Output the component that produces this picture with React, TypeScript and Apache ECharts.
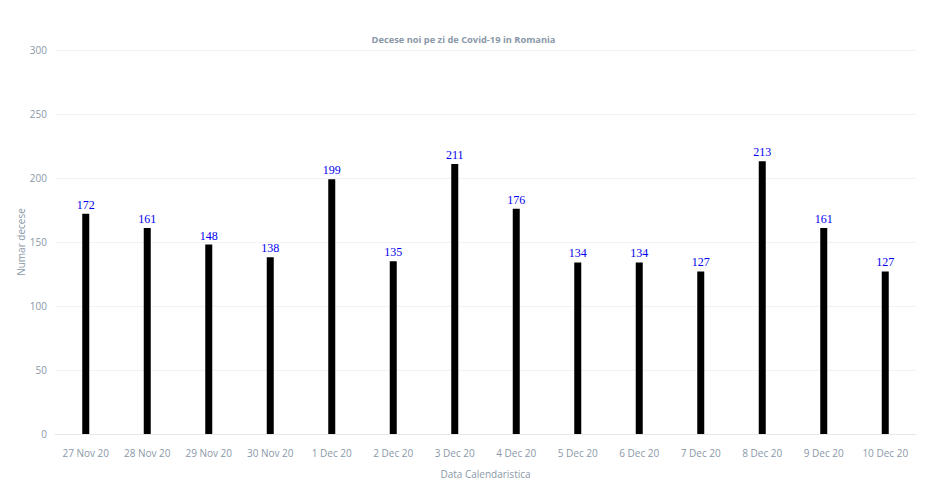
import React, { useEffect, useRef } from "react";
import * as echarts from "echarts";

const categories = ["27 Nov 20","28 Nov 20","29 Nov 20","30 Nov 20","1 Dec 20","2 Dec 20","3 Dec 20","4 Dec 20","5 Dec 20","6 Dec 20","7 Dec 20","8 Dec 20","9 Dec 20","10 Dec 20"];
const deaths = [172,161,148,138,199,135,211,176,134,134,127,213,161,127];
const yTicks = [0, 50, 100, 150, 200, 250, 300];

export default function App() {
  const ref = useRef<HTMLDivElement>(null);
  useEffect(() => {
    const chart = echarts.init(ref.current!, null, { renderer: "svg" });
    chart.setOption({
      animation: false,
      backgroundColor: "#ffffff",
      title: {
        text: "Decese noi pe zi de Covid-19 in Romania",
        left: "center",
        top: 30,
        textStyle: { fontFamily: "Open Sans", fontSize: 9.3, fontWeight: "bold", color: "#8a98a8" },
      },
      grid: { left: 55, right: 11, top: 50, bottom: 58 },
      xAxis: {
        type: "category",
        data: categories,
        name: "Data Calendaristica",
        nameLocation: "middle",
        nameGap: 35,
        nameMoveOverlap: false,
        nameTextStyle: { fontFamily: "Open Sans", fontSize: 10, color: "#8a98a8" },
        axisLine: { lineStyle: { color: "#e8e8e8" } },
        axisTick: { show: false },
        axisLabel: { fontFamily: "Open Sans", fontSize: 10, color: "#8a98a8", margin: 14, interval: 0 },
      },
      yAxis: {
        type: "value",
        min: yTicks[0],
        max: yTicks[yTicks.length - 1],
        interval: 50,
        name: "Numar decese",
        nameLocation: "middle",
        nameGap: 29,
        nameMoveOverlap: false,
        nameTextStyle: { fontFamily: "Open Sans", fontSize: 10, color: "#8a98a8" },
        axisLine: { show: false },
        axisTick: { show: false },
        axisLabel: { fontFamily: "Open Sans", fontSize: 10, color: "#8a98a8", margin: 8 },
        splitLine: { lineStyle: { color: "#f2f2f2" } },
      },
      series: [
        {
          type: "bar",
          data: deaths,
          barWidth: 7,
          itemStyle: { color: "#000000" },
          label: {
            show: true,
            position: "top",
            distance: 3,
            fontFamily: "Liberation Serif, serif",
            fontSize: 12,
            color: "#0000ee",
          },
        },
      ],
    });
    return () => chart.dispose();
  }, []);
  return <div ref={ref} style={{ width: 927, height: 492, position: "absolute", left: 0, top: 0 }} />;
}
